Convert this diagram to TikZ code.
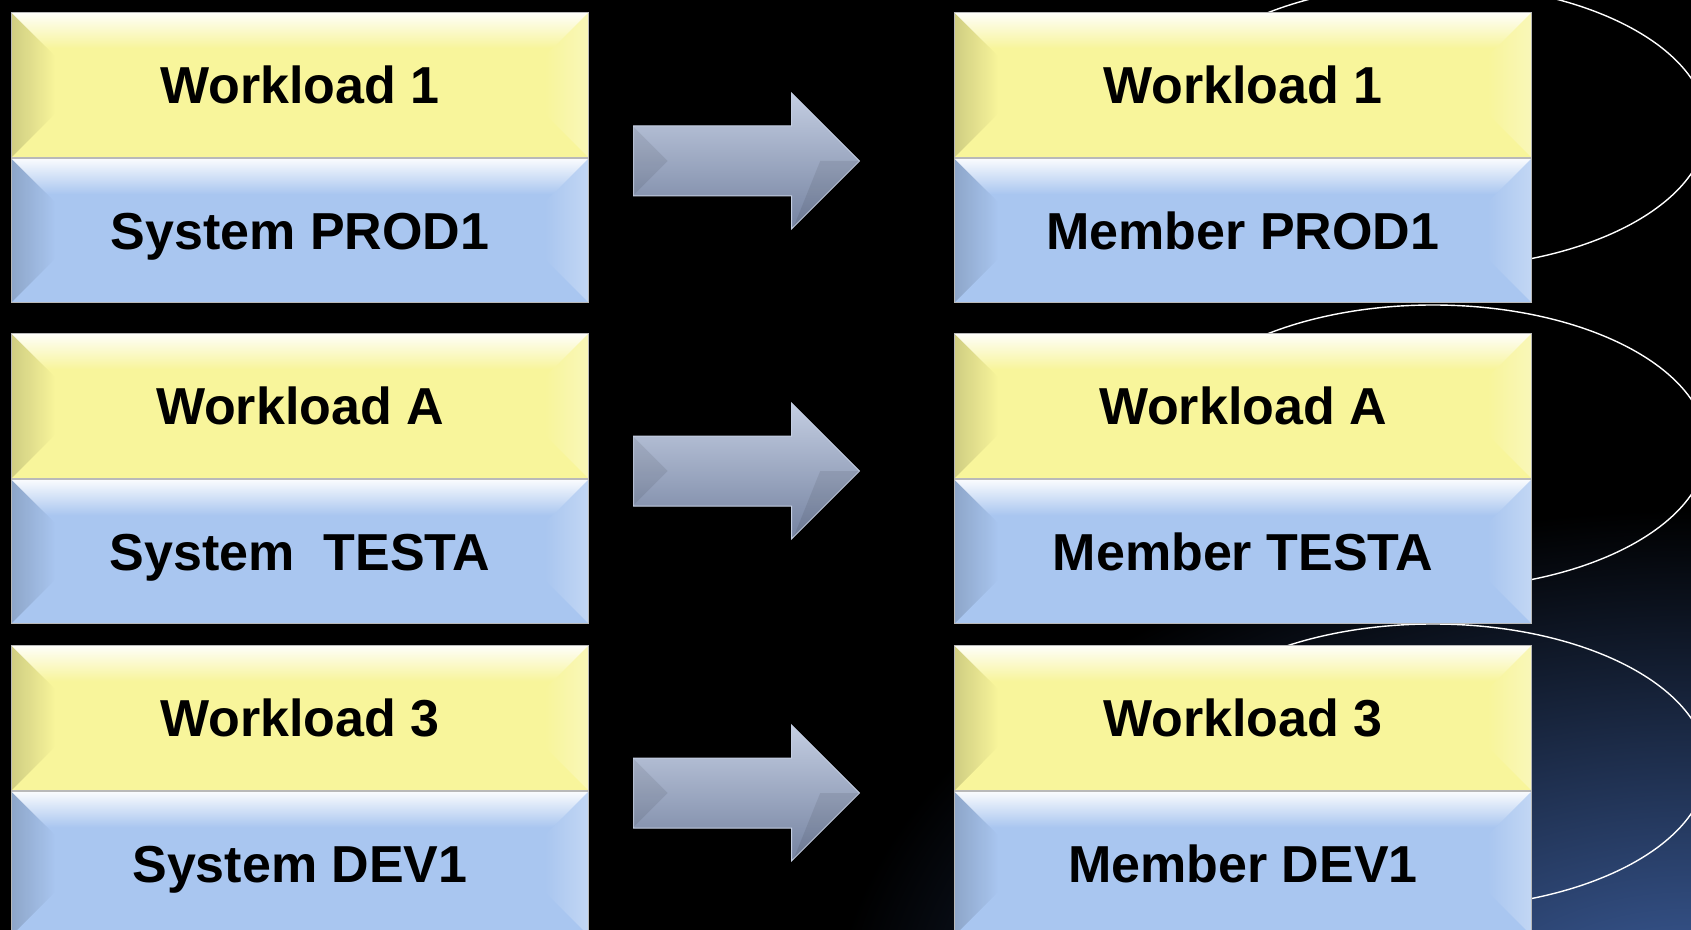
\documentclass[tikz,border=0pt]{standalone}
\usepackage{fontspec}
\setmainfont{Liberation Sans}
\usepackage{xcolor}
\usepackage{tikz}
\usetikzlibrary{positioning,shapes.arrows,fadings}

\definecolor{wlyellow}{RGB}{248,245,155}
\definecolor{sysblue}{RGB}{169,198,240}
\definecolor{glowblue}{RGB}{62,96,160}
\definecolor{arrowtop}{RGB}{196,206,226}
\definecolor{arrowmid}{RGB}{134,149,177}
\definecolor{arrowbot}{RGB}{116,130,160}

\begin{document}
\begin{tikzpicture}[x=0.5pt,y=-0.5pt,
    bevel/.style={path picture={
        \coordinate (bnw) at (path picture bounding box.north west);
        \coordinate (bse) at (path picture bounding box.south east);
        \coordinate (bne) at (bnw -| bse);
        \coordinate (bsw) at (bnw |- bse);
        \fill[black,opacity=0.16,path fading=east] (bsw) -- (bnw) -- ([shift={(22pt,-22pt)}]bnw) -- ([shift={(22pt,22pt)}]bsw) -- cycle;
        \fill[white,opacity=0.3,path fading=west] (bse) -- (bne) -- ([shift={(-22pt,-22pt)}]bne) -- ([shift={(-22pt,22pt)}]bse) -- cycle;
        \fill[white,opacity=0.95,path fading=south] (bnw) -- (bne) -- ([shift={(-18pt,-18pt)}]bne) -- ([shift={(18pt,-18pt)}]bnw) -- cycle;
    }},
    half/.style={draw=gray!55, line width=0.5pt, inner sep=0pt,
        minimum width=288.5pt, text height=18.6pt, text depth=0pt,
        font=\fontsize{26}{30}\selectfont\bfseries, bevel},
    workload/.style={half, fill=wlyellow, minimum height=72.5pt},
    system/.style={half, fill=sysblue, minimum height=72pt},
    blockarrow/.style={single arrow, anchor=tail, minimum height=113pt,
        inner xsep=0pt, inner ysep=17.25pt, single arrow head extend=16.5pt,
        draw=arrowtop, line width=0.5pt,
        top color=arrowtop, middle color=arrowmid, bottom color=arrowbot},
    facet/.style={fill=black, opacity=0.08},
    ring/.style={draw=white, line width=0.7pt}]

    % background
    \useasboundingbox (0,0) rectangle (1691,930);
    \fill[black] (0,0) rectangle (1691,930);
    \begin{scope}
        \clip (0,0) rectangle (1691,930);
        \shade[inner color=glowblue, outer color=black] (1691,1030) ellipse [x radius=430pt, y radius=260pt];
    \end{scope}

    % rings behind the members
    \draw[ring] (1433,126) ellipse [x radius=137pt, y radius=71pt];
    \draw[ring] (1433,447) ellipse [x radius=137pt, y radius=71pt];
    \draw[ring] (1433,766) ellipse [x radius=137pt, y radius=71pt];

    % systems
    \node[workload, anchor=north west] (wl1) at (11,12) {Workload 1};
    \node[system, below=0pt of wl1] (sys1) {System PROD1};
    \node[workload, anchor=north west] (wl2) at (11,333) {Workload A};
    \node[system, below=0pt of wl2] (sys2) {System\ \ TESTA};
    \node[workload, anchor=north west] (wl3) at (11,645) {Workload 3};
    \node[system, below=0pt of wl3] (sys3) {System DEV1};

    % members
    \node[workload, anchor=north west] (mwl1) at (954,12) {Workload 1};
    \node[system, below=0pt of mwl1] (mem1) {Member PROD1};
    \node[workload, anchor=north west] (mwl2) at (954,333) {Workload A};
    \node[system, below=0pt of mwl2] (mem2) {Member TESTA};
    \node[workload, anchor=north west] (mwl3) at (954,645) {Workload 3};
    \node[system, below=0pt of mwl3] (mem3) {Member DEV1};

    % arrows
    \node[blockarrow] (arr1) at (633,161) {};
    \node[blockarrow] (arr2) at (633,471) {};
    \node[blockarrow] (arr3) at (633,793) {};
    \fill[facet] ([yshift=17.25pt]arr1.tail) -- ([xshift=17.25pt]arr1.tail) -- ([yshift=-17.25pt]arr1.tail) -- cycle;
    \fill[facet] ([yshift=17.25pt]arr2.tail) -- ([xshift=17.25pt]arr2.tail) -- ([yshift=-17.25pt]arr2.tail) -- cycle;
    \fill[facet] ([yshift=17.25pt]arr3.tail) -- ([xshift=17.25pt]arr3.tail) -- ([yshift=-17.25pt]arr3.tail) -- cycle;
    \fill[facet] (arr1.tip) -- ([xshift=-20pt]arr1.tip) -- ([shift={(-33.5pt,-33.5pt)}]arr1.tip) -- cycle;
    \fill[facet] (arr2.tip) -- ([xshift=-20pt]arr2.tip) -- ([shift={(-33.5pt,-33.5pt)}]arr2.tip) -- cycle;
    \fill[facet] (arr3.tip) -- ([xshift=-20pt]arr3.tip) -- ([shift={(-33.5pt,-33.5pt)}]arr3.tip) -- cycle;
\end{tikzpicture}
\end{document}
